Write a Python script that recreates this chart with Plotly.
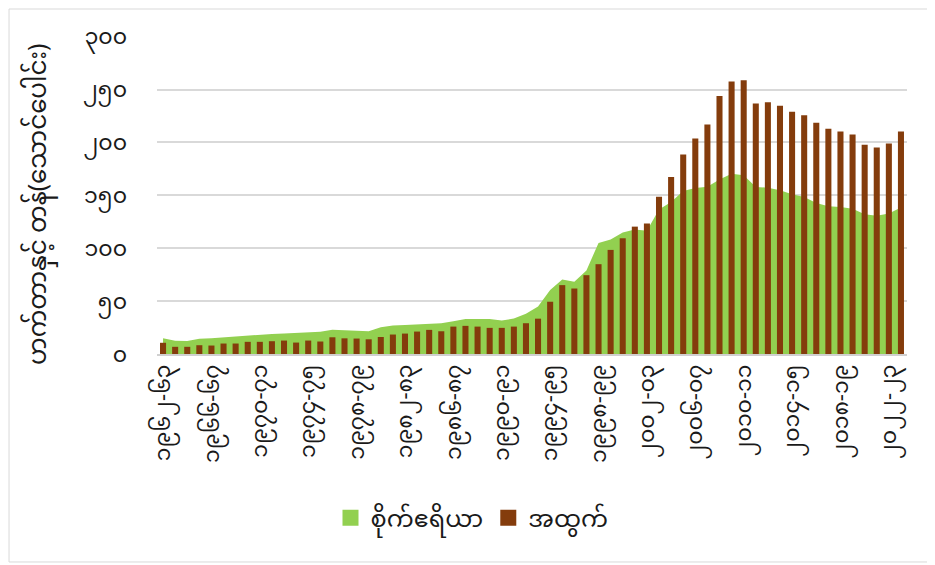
import plotly.graph_objects as go

categories = [
    "၁၉၆၂-၆၃", "၁၉၆၃-၆၄", "၁၉၆၄-၆၅", "၁၉၆၅-၆၆", "၁၉၆၆-၆၇", "၁၉၆၇-၆၈", "၁၉၆၈-၆၉", "၁၉၆၉-၇၀",
    "၁၉၇၀-၇၁", "၁၉၇၁-၇၂", "၁၉၇၂-၇၃", "၁၉၇၃-၇၄", "၁၉၇၄-၇၅", "၁၉၇၅-၇၆", "၁၉၇၆-၇၇", "၁၉၇၇-၇၈",
    "၁၉၇၈-၇၉", "၁၉၇၉-၈၀", "၁၉၈၀-၈၁", "၁၉၈၁-၈၂", "၁၉၈၂-၈၃", "၁၉၈၃-၈၄", "၁၉၈၄-၈၅", "၁၉၈၅-၈၆",
    "၁၉၈၆-၈၇", "၁၉၈၇-၈၈", "၁၉၈၈-၈၉", "၁၉၈၉-၉၀", "၁၉၉၀-၉၁", "၁၉၉၁-၉၂", "၁၉၉၂-၉၃", "၁၉၉၃-၉၄",
    "၁၉၉၄-၉၅", "၁၉၉၅-၉၆", "၁၉၉၆-၉၇", "၁၉၉၇-၉၈", "၁၉၉၈-၉၉", "၁၉၉၉-၀၀", "၂၀၀၀-၀၁", "၂၀၀၁-၀၂",
    "၂၀၀၂-၀၃", "၂၀၀၃-၀၄", "၂၀၀၄-၀၅", "၂၀၀၅-၀၆", "၂၀၀၆-၀၇", "၂၀၀၇-၀၈", "၂၀၀၈-၀၉", "၂၀၀၉-၁၀",
    "၂၀၁၀-၁၁", "၂၀၁၁-၁၂", "၂၀၁၂-၁၃", "၂၀၁၃-၁၄", "၂၀၁၄-၁၅", "၂၀၁၅-၁၆", "၂၀၁၆-၁၇", "၂၀၁၇-၁၈",
    "၂၀၁၈-၁၉", "၂၀၁၉-၂၀", "၂၀၂၀-၂၁", "၂၀၂၁-၂၂", "၂၀၂၂-၂၃", "၂၀၂၃-၂၄",
]

sown_area = [
    14.8, 12.6, 12.3, 14.5, 14.8, 15.7, 16.4, 17.0, 18.0, 19.0,
    19.3, 19.9, 20.5, 21.1, 23.0, 22.3, 22.0, 21.4, 25.3, 27.0,
    27.5, 28.0, 28.4, 29.0, 31.0, 33.2, 33.0, 33.0, 31.6, 33.5,
    38.0, 45.0, 60.4, 70.5, 68.2, 79.0, 105.0, 108.2, 114.8, 117.6,
    116.5, 136.5, 143.7, 154.0, 157.0, 158.0, 165.0, 170.4, 168.9, 157.9,
    157.2, 154.7, 151.0, 148.4, 142.8, 139.6, 139.0, 137.4, 132.0, 130.8,
    132.7, 138.4,
]

production = [
    10.6, 6.8, 6.8, 8.3, 8.0, 9.9, 9.9, 11.5, 11.5, 12.1,
    12.7, 10.8, 12.7, 11.8, 15.8, 14.8, 14.6, 13.9, 16.1, 18.4,
    19.3, 21.2, 22.8, 21.5, 25.9, 26.6, 25.9, 24.7, 24.7, 25.9,
    29.1, 33.4, 49.4, 65.1, 61.9, 74.5, 84.9, 98.4, 109.4, 120.4,
    123.3, 148.7, 167.3, 188.7, 203.8, 217.0, 244.0, 257.7, 258.8, 236.8,
    238.0, 234.6, 228.9, 225.8, 218.6, 212.9, 210.4, 207.5, 197.8, 195.3,
    199.1, 210.4,
]

y_ticks = [0, 50, 100, 150, 200, 250, 300]
y_tick_text = ["၀", "၅၀", "၁၀၀", "၁၅၀", "၂၀၀", "၂၅၀", "၃၀၀"]
x_tick_vals = categories[::4]

series_names = ["စိုက်ဧရိယာ", "အထွက်"]
y_title = "ဟက်တာနှင့် တန်(သောင်ပေါင်း)"

GREEN = "#92D050"
BROWN = "#843C0C"
FONT = "Noto Sans Myanmar, Padauk, Myanmar Text, Noto Sans, DejaVu Sans, sans-serif"

fig = go.Figure()
# sown area (filled area, drawn beneath the bars)
fig.add_trace(go.Scatter(
    x=categories, y=sown_area, name=series_names[0],
    mode="lines", line=dict(width=0, color=GREEN),
    fill="tozeroy", fillcolor=GREEN, showlegend=False,
    xaxis="x", yaxis="y",
))
# production bars (overlaid axis so they sit on top of the area)
fig.add_trace(go.Bar(
    x=categories, y=production, name=series_names[1],
    marker=dict(color=BROWN, line=dict(width=0)),
    xaxis="x2", yaxis="y2", showlegend=False,
))
# legend-only square swatches
for nm, col in zip(series_names, [GREEN, BROWN]):
    fig.add_trace(go.Scatter(
        x=[None], y=[None], name=nm, mode="markers",
        marker=dict(symbol="square", size=16, color=col),
        xaxis="x2", yaxis="y2", showlegend=True,
    ))

xr = [-0.5, len(categories) - 0.5]
yr = [0, 300.6]

fig.update_layout(
    width=927, height=557,
    margin=dict(l=149, r=28, t=28, b=211, autoexpand=False),
    paper_bgcolor="white", plot_bgcolor="white",
    font=dict(family=FONT, color="#1a1a1a", size=22),
    bargap=0.5, barmode="overlay",
    showlegend=True,
    legend=dict(orientation="h", x=0.42, xanchor="center", y=-0.516, yanchor="middle",
                font=dict(size=24), traceorder="normal", itemwidth=30),
    xaxis=dict(type="category", categoryorder="array", categoryarray=categories,
               range=xr, tickmode="array", tickvals=x_tick_vals, ticktext=x_tick_vals,
               tickangle=-90, showgrid=False, showline=True, linecolor="#D0D0D0", linewidth=1.5,
               ticks="", tickfont=dict(size=22), automargin=False),
    yaxis=dict(range=yr, tickmode="array", tickvals=y_ticks, ticktext=y_tick_text,
               showgrid=True, gridcolor="#D9D9D9", gridwidth=1.5, zeroline=False,
               ticks="", ticklabelstandoff=29, tickfont=dict(size=22), automargin=False),
    xaxis2=dict(type="category", categoryorder="array", categoryarray=categories,
                range=xr, overlaying="x", showticklabels=False, showgrid=False, ticks="",
                automargin=False),
    yaxis2=dict(range=yr, overlaying="y", showticklabels=False, showgrid=False,
                zeroline=False, ticks="", automargin=False),
    annotations=[dict(text=y_title, xref="paper", yref="paper", x=-0.156, y=0.4686,
                      xanchor="center", yanchor="middle", textangle=-90, showarrow=False,
                      font=dict(size=24.6, family=FONT, color="#1a1a1a"))],
    shapes=[dict(type="rect", xref="paper", yref="paper",
                 x0=-0.1973, x1=1.0333, y0=-0.654, y1=1.0849,
                 line=dict(color="#D9D9D9", width=1), fillcolor="rgba(0,0,0,0)", layer="below")],
)

fig.write_html("out.html")
